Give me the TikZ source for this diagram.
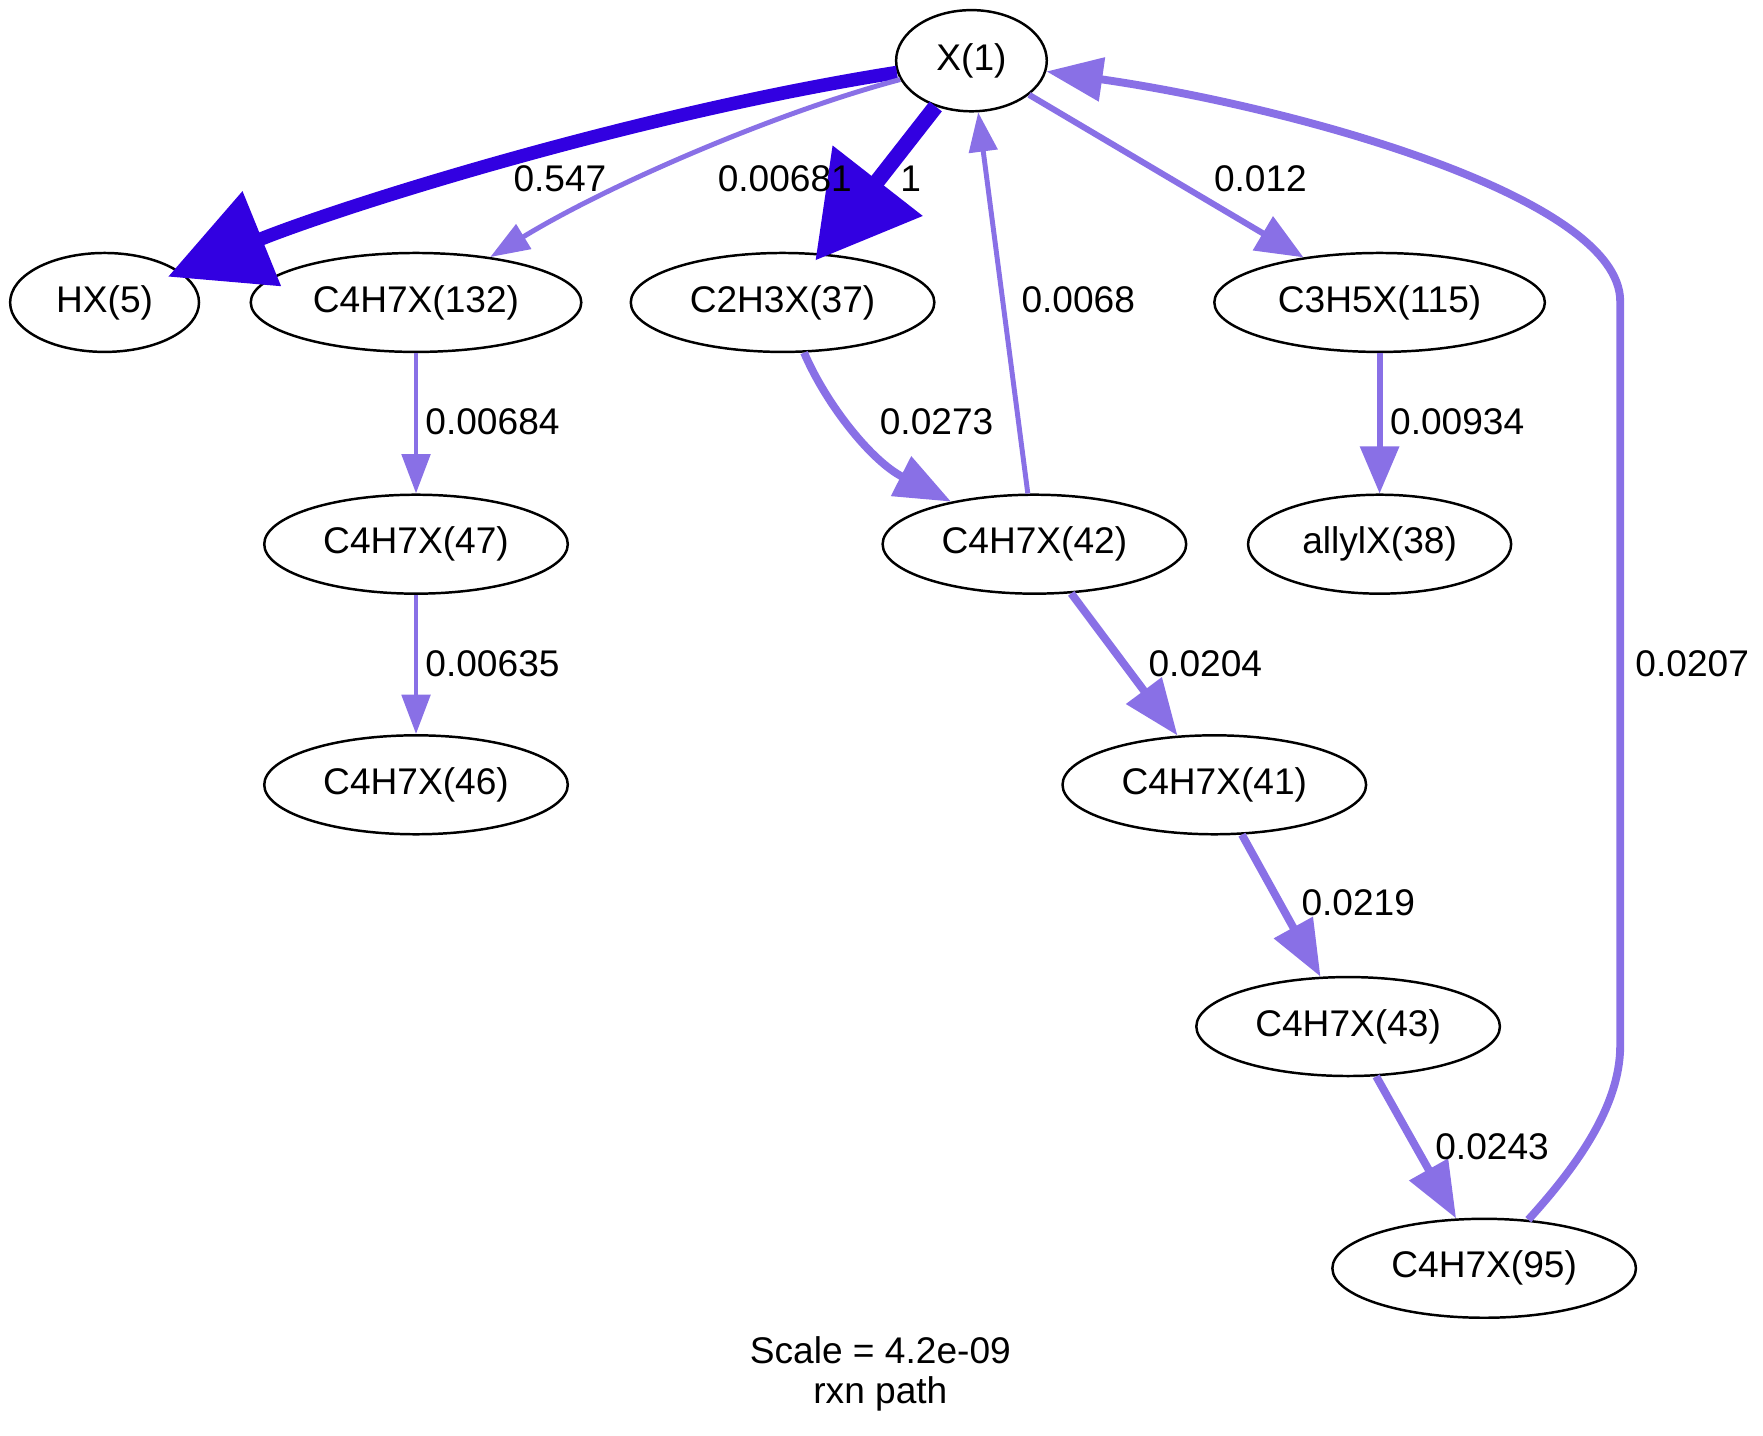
\documentclass[tikz,border=0pt]{standalone}
\usepackage{fontspec}
\setmainfont{Liberation Sans}
\usetikzlibrary{arrows.meta,shapes.geometric}
\definecolor{fluxstrong}{RGB}{50,0,225}
\definecolor{fluxweak}{RGB}{137,112,230}
\begin{document}
\begin{tikzpicture}[x=0.5pt,y=-0.5pt,
  species/.style={draw=black, line width=1.1pt, ellipse, inner sep=0pt,
    minimum height=44pt, font=\fontsize{16.5}{20}\selectfont},
  flux/.style={inner sep=0pt, font=\fontsize{16.5}{20}\selectfont},
  weak/.style={draw=fluxweak, line width=2.2pt,
    -{Triangle[length=17.5pt,width=12.5pt]}},
  mid/.style={draw=fluxweak, line width=2.7pt,
    -{Triangle[length=21pt,width=17pt]}},
  medium/.style={draw=fluxweak, line width=3.5pt,
    -{Triangle[length=25pt,width=19pt]}},
  heavy/.style={draw=fluxstrong, line width=6pt, shorten >=-6pt,
    -{Triangle[length=45pt,width=44pt]}},
  heaviest/.style={draw=fluxstrong, line width=7pt, shorten >=-4pt,
    -{Triangle[length=45pt,width=49pt]}},
]
\useasboundingbox (0,0) rectangle (1568,1277);

% species
\node[species, minimum width=67pt, minimum height=45pt] (X) at (864,54) {X(1)};
\node[species, minimum width=84pt] (HX) at (93,269) {HX(5)};
\node[species, minimum width=147pt] (n132) at (370,269) {C4H7X(132)};
\node[species, minimum width=135pt] (n37) at (696,269) {C2H3X(37)};
\node[species, minimum width=147pt] (n115) at (1227,269) {C3H5X(115)};
\node[species, minimum width=135pt] (n47) at (370,484) {C4H7X(47)};
\node[species, minimum width=135pt] (n42) at (920,484) {C4H7X(42)};
\node[species, minimum width=117pt] (n38) at (1227,484) {allylX(38)};
\node[species, minimum width=135pt] (n46) at (370,698) {C4H7X(46)};
\node[species, minimum width=135pt] (n41) at (1080,698) {C4H7X(41)};
\node[species, minimum width=135pt] (n43) at (1199,913) {C4H7X(43)};
\node[species, minimum width=135pt] (n95) at (1320,1128) {C4H7X(95)};

% bends of the return path
\coordinate (r1) at (1441,930);
\coordinate (r2) at (1441,268);

% fluxes
\draw[heavy] (X) .. controls (560,102) and (300,185) .. (HX);
\draw[weak] (X) .. controls (690,100) and (540,165) .. (n132);
\draw[heaviest] (X) -- (n37);
\draw[weak] (n42) -- (X);
\draw[mid] (X) -- (n115);
\draw[medium] (n95) .. controls (1400,1040) and (1441,985) .. (r1) -- (r2)
  .. controls (1441,175) and (1150,95) .. (X);
\draw[weak] (n132) -- (n47);
\draw[weak] (n47) -- (n46);
\draw[medium] (n37) .. controls (735,360) and (775,410) .. (n42);
\draw[mid] (n115) -- (n38);
\draw[medium] (n42) -- (n41);
\draw[medium] (n41) -- (n43);
\draw[medium] (n43) -- (n95);

% flux values
\node[flux] (f547) at (498,159) {0.547};
\node[flux] (f681) at (698,159) {0.00681};
\node[flux] (f1) at (810,159) {1};
\node[flux] (f012) at (1121,159) {0.012};
\node[flux] (f0068) at (959,267) {0.0068};
\node[flux] (f684) at (438,375) {0.00684};
\node[flux] (f273) at (833,375) {0.0273};
\node[flux] (f934) at (1296,375) {0.00934};
\node[flux] (f635) at (438,590) {0.00635};
\node[flux] (f204) at (1072,590) {0.0204};
\node[flux] (f207) at (1505,590) {0.0207};
\node[flux] (f219) at (1208,803) {0.0219};
\node[flux] (f243) at (1327,1020) {0.0243};

% caption
\node[flux] (scale) at (783,1201) {Scale = 4.2e-09};
\node[flux] (title) at (783,1240) {rxn path};
\end{tikzpicture}
\end{document}
